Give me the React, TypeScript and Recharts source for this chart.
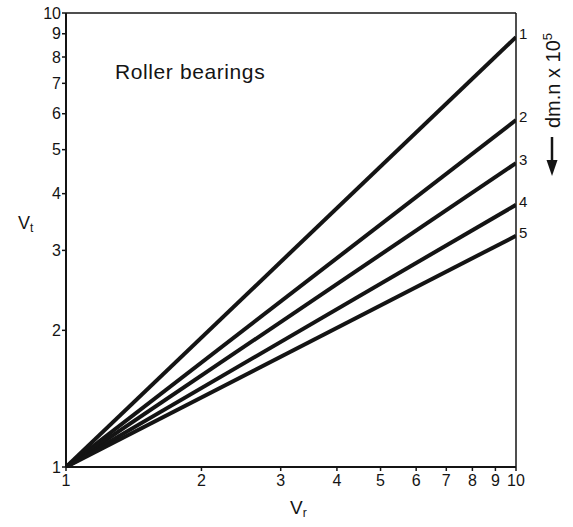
import React from 'react';
import { LineChart, Line, XAxis, YAxis, ReferenceLine } from 'recharts';

// speed ratio on the x axis, load ratio lines end at Vr = 10
const vrValues = [1, 10];
const curveNames = ['1', '2', '3', '4', '5'];
const curve1 = [1, 8.85];
const curve2 = [1, 5.81];
const curve3 = [1, 4.67];
const curve4 = [1, 3.78];
const curve5 = [1, 3.23];
const logTicks = [1, 2, 3, 4, 5, 6, 7, 8, 9, 10];

const curves = [curve1, curve2, curve3, curve4, curve5];

const data = vrValues.map((vr, i) => {
  const row: { [key: string]: number } = { vr };
  curveNames.forEach((name, c) => {
    row['c' + name] = curves[c][i];
  });
  return row;
});

const font = '"Liberation Sans", Arial, sans-serif';
const ink = '#141414';

const endLabel = (name: string) => (props: any) => {
  const { x, y, index } = props;
  if (index !== vrValues.length - 1) return null;
  return (
    <text x={x + 3} y={y + 2} fontSize={15} fontFamily={font} fill={ink}>
      {name}
    </text>
  );
};

export default function App() {
  return (
    <div style={{ position: 'absolute', left: 0, top: 0, width: 573, height: 527, background: '#fff' }}>
      <LineChart width={573} height={527} data={data} margin={{ top: 13, right: 57, left: 0, bottom: 0 }}>
        <XAxis
          dataKey="vr"
          type="number"
          scale="log"
          domain={[1, 10]}
          ticks={logTicks}
          interval={0}
          allowDataOverflow
          height={60}
          tickSize={4}
          tickMargin={4}
          axisLine={{ stroke: ink, strokeWidth: 2 }}
          tickLine={{ stroke: ink, strokeWidth: 1.5 }}
          tick={{ fill: ink, fontSize: 16, fontFamily: font }}
        />
        <YAxis
          type="number"
          scale="log"
          domain={[1, 10]}
          ticks={logTicks}
          interval={0}
          allowDataOverflow
          width={66}
          tickSize={4}
          tickMargin={1}
          axisLine={{ stroke: ink, strokeWidth: 2 }}
          tickLine={{ stroke: ink, strokeWidth: 1.5 }}
          tick={{ fill: ink, fontSize: 16, fontFamily: font }}
        />
        <ReferenceLine y={10} stroke={ink} strokeWidth={1.5} />
        <ReferenceLine x={10} stroke={ink} strokeWidth={1.5} />
        {curveNames.map((name) => (
          <Line
            key={name}
            dataKey={'c' + name}
            type="linear"
            stroke={ink}
            strokeWidth={4}
            dot={false}
            isAnimationActive={false}
            label={endLabel(name)}
          />
        ))}
      </LineChart>
      <svg
        width={573}
        height={527}
        style={{ position: 'absolute', left: 0, top: 0, pointerEvents: 'none' }}
        fontFamily={font}
        fill={ink}
      >
        <text x={115} y={79} fontSize={21} letterSpacing={0.6}>Roller bearings</text>
        <text x={18} y={229} fontSize={18}>
          V<tspan fontSize={12} dy={3}>t</tspan>
        </text>
        <text x={290} y={514} fontSize={19}>
          V<tspan fontSize={12} dy={3}>r</tspan>
        </text>
        <text x={560} y={128} fontSize={20} transform="rotate(-90 560 128)">
          dm.n x 10<tspan fontSize={13} dy={-8}>5</tspan>
        </text>
        <line x1={552} y1={137} x2={552} y2={162} stroke={ink} strokeWidth={2.5} />
        <polygon points="546.5,160 557.5,160 552,176" fill={ink} />
      </svg>
    </div>
  );
}
